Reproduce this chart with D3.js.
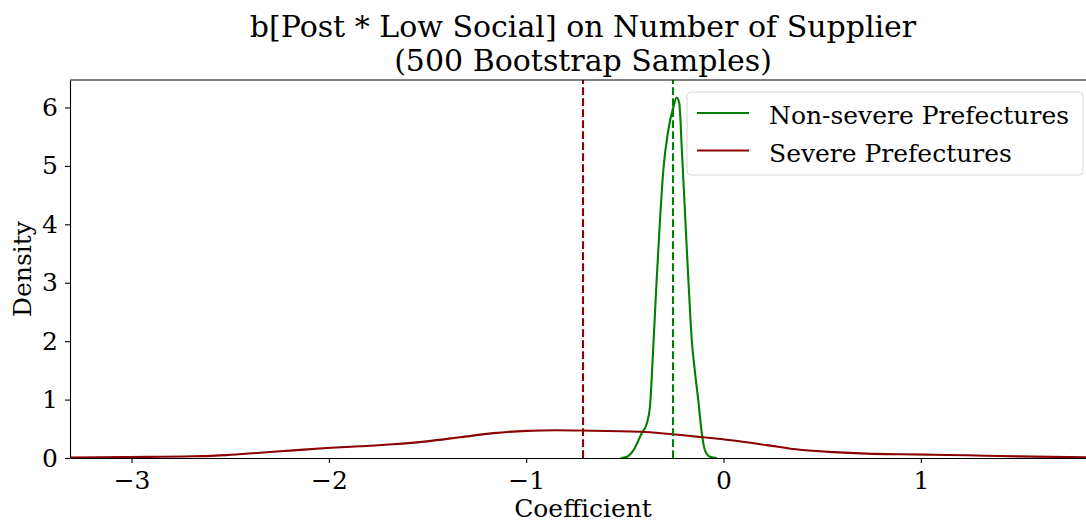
<!DOCTYPE html>
<html>
<head>
<meta charset="utf-8">
<script src="https://cdn.jsdelivr.net/npm/d3@7"></script>
<style>
  body { margin: 0; background: #fff; }
  svg { display: block; font-family: "DejaVu Serif", serif; }
  .tick text { font-family: "DejaVu Serif", serif; font-size: 25px; fill: #000; }
  .tick line, .domain { stroke: #000; stroke-width: 1.1; }
</style>
</head>
<body>
<div id="vis"></div>
<script>
// density curves (coefficient, density)
var nonSevereX = [-0.52, -0.49, -0.457, -0.415, -0.389, -0.373, -0.356, -0.339, -0.322, -0.305, -0.28, -0.254, -0.237, -0.224, -0.212, -0.195, -0.178, -0.161, -0.144, -0.128, -0.11, -0.094, -0.068, -0.034];
var nonSevereY = [0, 0.02, 0.13, 0.42, 0.59, 0.87, 1.9, 3.04, 4.07, 4.93, 5.61, 6.01, 6.17, 6.07, 5.33, 4.18, 3.04, 2.02, 1.45, 0.99, 0.42, 0.13, 0.02, 0];

var severeX = [-3.312, -3.025, -2.687, -2.518, -2.349, -2.18, -2.011, -1.842, -1.673, -1.504, -1.335, -1.166, -0.997, -0.85, -0.727, -0.423, -0.271, -0.119, 0.05, 0.219, 0.388, 0.557, 0.726, 0.894, 1.063, 1.232, 1.401, 1.57, 1.837];
var severeY = [0.007, 0.017, 0.03, 0.05, 0.09, 0.13, 0.17, 0.2, 0.235, 0.285, 0.355, 0.425, 0.465, 0.475, 0.47, 0.45, 0.41, 0.36, 0.3, 0.22, 0.14, 0.1, 0.075, 0.063, 0.056, 0.046, 0.034, 0.023, 0.012];

var seriesNames = ['Non-severe Prefectures', 'Severe Prefectures'];
var seriesColors = ['green', '#8b0000'];
var seriesMeans = [-0.256, -0.712];

var xTicks = [-3, -2, -1, 0, 1];
var yTicks = [0, 1, 2, 3, 4, 5, 6];

var width = 1086, height = 525;
var margin = { left: 70, top: 80, right: 0, bottom: 67 };

var svg = d3.select('#vis').append('svg')
    .attr('width', width)
    .attr('height', height);

var xScale = d3.scaleLinear().domain([-3.312, 1.837]).range([margin.left, width - margin.right]);
var yScale = d3.scaleLinear().domain([0, 6.47]).range([height - margin.bottom, margin.top]);

var fmt = function(d) { return d < 0 ? '\u2212' + Math.abs(d) : String(d); };

svg.append('defs').append('clipPath').attr('id', 'plotclip')
    .append('rect')
    .attr('x', margin.left).attr('y', margin.top)
    .attr('width', width - margin.left - margin.right)
    .attr('height', height - margin.top - margin.bottom);

var plot = svg.append('g').attr('clip-path', 'url(#plotclip)');

var line = d3.line()
    .x(function(d) { return xScale(d[0]); })
    .y(function(d) { return yScale(d[1]); })
    .curve(d3.curveMonotoneX);

var series = [
    d3.zip(nonSevereX, nonSevereY),
    d3.zip(severeX, severeY)
];

series.forEach(function(s, i) {
    plot.append('path')
        .datum(s)
        .attr('d', line)
        .attr('fill', 'none')
        .attr('stroke', seriesColors[i])
        .attr('stroke-width', 2.1);
});

seriesMeans.forEach(function(m, i) {
    plot.append('line')
        .attr('x1', xScale(m)).attr('x2', xScale(m))
        .attr('y1', yScale(0)).attr('y2', margin.top)
        .attr('stroke', seriesColors[i])
        .attr('stroke-width', 2.1)
        .attr('stroke-dasharray', '7.7,3.3');
});

// axes
var xAxis = d3.axisBottom(xScale).tickValues(xTicks).tickFormat(fmt).tickSize(5).tickPadding(8).tickSizeOuter(0);
var yAxis = d3.axisLeft(yScale).tickValues(yTicks).tickFormat(fmt).tickSize(5).tickPadding(7).tickSizeOuter(0);

svg.append('g')
    .attr('transform', 'translate(0,' + yScale(0) + ')')
    .call(xAxis);

svg.append('g')
    .attr('transform', 'translate(' + margin.left + ',0)')
    .call(yAxis);

// top spine
svg.append('line')
    .attr('x1', margin.left).attr('x2', width)
    .attr('y1', margin.top).attr('y2', margin.top)
    .attr('stroke', '#000').attr('stroke-width', 1.1);

svg.selectAll('.tick text').attr('fill', '#000');

// axis labels
svg.append('text')
    .attr('x', 583).attr('y', 517)
    .attr('text-anchor', 'middle')
    .style('font-size', '25px')
    .text('Coefficient');

svg.append('text')
    .attr('transform', 'translate(31,' + ((margin.top + yScale(0)) / 2) + ')rotate(-90)')
    .attr('text-anchor', 'middle')
    .style('font-size', '25px')
    .text('Density');

// title
svg.append('text')
    .attr('x', 583).attr('y', 37)
    .attr('text-anchor', 'middle')
    .style('font-size', '30px')
    .text('b[Post * Low Social] on Number of Supplier');

svg.append('text')
    .attr('x', 583).attr('y', 71)
    .attr('text-anchor', 'middle')
    .style('font-size', '30px')
    .text('(500 Bootstrap Samples)');

// legend
var legend = svg.append('g');
legend.append('rect')
    .attr('x', 687).attr('y', 92)
    .attr('width', 396).attr('height', 83)
    .attr('rx', 4)
    .attr('fill', 'rgba(255,255,255,0.8)')
    .attr('stroke', '#d6d6d6')
    .attr('stroke-width', 1);

seriesNames.forEach(function(name, i) {
    var yy = 113 + i * 37.5;
    legend.append('line')
        .attr('x1', 697).attr('x2', 749)
        .attr('y1', yy).attr('y2', yy)
        .attr('stroke', seriesColors[i])
        .attr('stroke-width', 2.1);
    legend.append('text')
        .attr('x', 769).attr('y', yy + 11)
        .style('font-size', '25px')
        .text(name);
});
</script>
</body>
</html>
